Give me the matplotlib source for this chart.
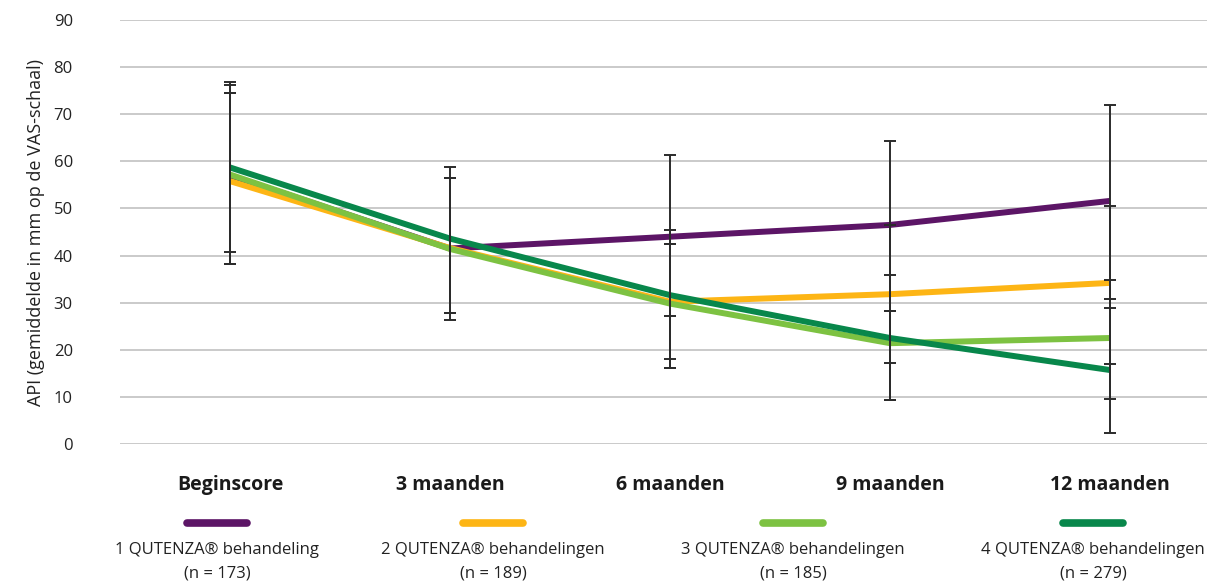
import matplotlib
matplotlib.use("Agg")
import matplotlib.pyplot as plt
from matplotlib.lines import Line2D
from matplotlib import font_manager

# data
categories = ["Beginscore", "3 maanden", "6 maanden", "9 maanden", "12 maanden"]
series_names = ["1 QUTENZA\u00ae behandeling", "2 QUTENZA\u00ae behandelingen",
                "3 QUTENZA\u00ae behandelingen", "4 QUTENZA\u00ae behandelingen"]
series_n = ["(n = 173)", "(n = 189)", "(n = 185)", "(n = 279)"]

purple_vals = [57.0, 41.5, 44.0, 46.5, 51.6]
orange_vals = [55.8, 41.6, 30.2, 31.8, 34.2]
lgreen_vals = [57.2, 41.4, 29.8, 21.4, 22.5]
dgreen_vals = [58.7, 43.6, 31.6, 22.5, 15.7]

purple_lo = [38.2, 26.3, 27.2, 28.2, 30.8]
purple_hi = [76.3, 58.8, 61.4, 64.3, 72.0]
orange_lo = [38.2, 27.8, 16.2, 17.2, 17.0]
orange_hi = [74.6, 56.5, 45.4, 46.4, 50.5]
lgreen_lo = [40.8, 27.8, 16.2, 9.3, 9.6]
lgreen_hi = [74.6, 56.5, 42.5, 28.2, 34.8]
dgreen_lo = [38.2, 27.8, 18.0, 9.3, 2.3]
dgreen_hi = [76.9, 56.5, 42.5, 35.9, 28.9]

colors = ["#5c1566", "#fdb515", "#7dc242", "#08874b"]

avail = {f.name for f in font_manager.fontManager.ttflist}
fam = "Liberation Sans Narrow" if "Liberation Sans Narrow" in avail else "Open Sans"
plt.rcParams["font.family"] = [fam, "DejaVu Sans"]

fig = plt.figure(figsize=(12.07, 5.84), dpi=100)
ax = fig.add_axes([120 / 1207, 140 / 584, 1100 / 1207, 424 / 584])

x = list(range(len(categories)))
vals = [purple_vals, orange_vals, lgreen_vals, dgreen_vals]
los = [purple_lo, orange_lo, lgreen_lo, dgreen_lo]
his = [purple_hi, orange_hi, lgreen_hi, dgreen_hi]

for v, c in zip(vals, colors):
    ax.plot(x, v, color=c, linewidth=4.3, solid_capstyle="butt", zorder=3)

for v, lo, hi in zip(vals, los, his):
    yerr = [[a - b for a, b in zip(v, lo)], [b - a for a, b in zip(v, hi)]]
    ax.errorbar(x, v, yerr=yerr, fmt="none", ecolor="#2b2b2b", elinewidth=1.4,
                capsize=4.5, capthick=1.4, zorder=4)

ax.set_xlim(-0.5, 4.5)
ax.set_ylim(0, 90)
ax.set_yticks(range(0, 91, 10))
ax.yaxis.grid(True, color="#c6c6c6", linewidth=1.3)
ax.set_axisbelow(True)
for s in ax.spines.values():
    s.set_visible(False)
ax.tick_params(axis="y", length=0, pad=34, labelsize=12, labelcolor="#222222")
ax.tick_params(axis="x", length=0, pad=22)
ax.set_xticks(x)
ax.set_xticklabels(categories, fontsize=14, fontweight="bold", color="#1a1a1a")
ax.set_ylabel("API (gemiddelde in mm op de VAS-schaal)", fontsize=13, color="#222222", labelpad=6)

# legend below the chart
leg_x = [217, 493, 793, 1093]
for cx, c, name, n in zip(leg_x, colors, series_names, series_n):
    fx = cx / 1207
    fig.add_artist(Line2D([fx - 30 / 1207, fx + 30 / 1207], [1 - 523 / 584] * 2,
                          color=c, linewidth=5.5, solid_capstyle="round",
                          transform=fig.transFigure))
    fig.text(fx, 1 - 550 / 584, name, ha="center", va="center", fontsize=12, color="#222222")
    fig.text(fx, 1 - 574 / 584, n, ha="center", va="center", fontsize=12, color="#222222")

fig.savefig("out.png", dpi=100)
